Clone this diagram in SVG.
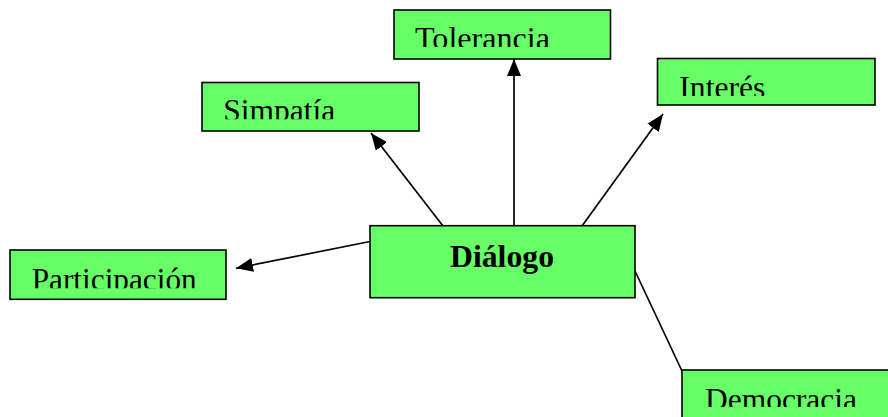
<svg xmlns="http://www.w3.org/2000/svg" width="888" height="417" viewBox="0 0 888 417">
<style>
.box{fill:#66ff66;stroke:#000;stroke-width:1.6}
.lbl{font-family:"Liberation Serif","Times New Roman",serif;font-size:31.5px;fill:#000}
.bold{font-family:"Liberation Serif","Times New Roman",serif;font-size:31px;font-weight:bold;fill:#000}
.edge{stroke:#000;stroke-width:1.7;fill:none}
</style>
<defs>
<marker id="ah" markerUnits="userSpaceOnUse" markerWidth="18" markerHeight="14" refX="17" refY="7" orient="auto">
<path d="M0,0 L17,7 L0,14 Z" fill="#000"/>
</marker>
<clipPath id="cT"><rect x="394" y="10" width="217" height="37"/></clipPath>
<clipPath id="cS"><rect x="202" y="82" width="217" height="37.3"/></clipPath>
<clipPath id="cI"><rect x="657" y="58" width="218" height="38"/></clipPath>
<clipPath id="cP"><rect x="9" y="250" width="219" height="38.3"/></clipPath>
<clipPath id="cD"><rect x="682" y="370" width="220" height="37"/></clipPath>
</defs>
<g id="connectors">
<line class="edge" x1="514" y1="226" x2="514" y2="59" marker-end="url(#ah)"/>
<line class="edge" x1="443" y1="226" x2="371" y2="133" marker-end="url(#ah)"/>
<line class="edge" x1="582" y1="226" x2="663" y2="114" marker-end="url(#ah)"/>
<line class="edge" x1="370" y1="241.5" x2="236" y2="268.3" marker-end="url(#ah)"/>
<line class="edge" x1="635" y1="271" x2="682" y2="371"/>
</g>
<g id="tolerancia">
<rect class="box" x="394" y="10" width="216.5" height="49"/>
<text class="lbl" x="415" y="48.5" textLength="135" lengthAdjust="spacingAndGlyphs" clip-path="url(#cT)">Tolerancia</text>
</g>
<g id="simpatia">
<rect class="box" x="202" y="82.5" width="217" height="48.5"/>
<text class="lbl" x="223.3" y="121" textLength="112" lengthAdjust="spacingAndGlyphs" clip-path="url(#cS)">Simpatía</text>
</g>
<g id="interes">
<rect class="box" x="657.5" y="58.5" width="217.5" height="46.5"/>
<text class="lbl" x="679.3" y="97.6" textLength="86" lengthAdjust="spacingAndGlyphs" clip-path="url(#cI)">Interés</text>
</g>
<g id="participacion">
<rect class="box" x="10" y="250" width="216" height="49.3"/>
<text class="lbl" x="31.7" y="289.6" textLength="165" lengthAdjust="spacingAndGlyphs" clip-path="url(#cP)">Participación</text>
</g>
<g id="dialogo">
<rect class="box" x="370" y="225.7" width="265" height="72"/>
<text class="bold" x="450" y="267.3" textLength="104" lengthAdjust="spacingAndGlyphs">Diálogo</text>
</g>
<g id="democracia">
<rect class="box" x="682" y="370" width="220" height="60"/>
<text class="lbl" x="705" y="410.2" textLength="152" lengthAdjust="spacingAndGlyphs" clip-path="url(#cD)">Democracia</text>
</g>
</svg>
